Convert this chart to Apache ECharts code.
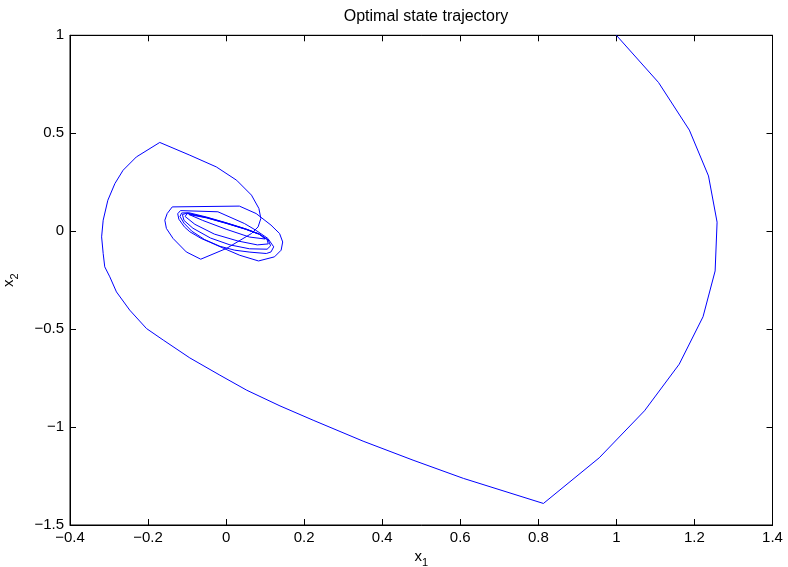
<!DOCTYPE html>
<html>
<head>
<meta charset="utf-8">
<script src="https://cdn.jsdelivr.net/npm/echarts@6/dist/echarts.min.js"></script>
<style>
  html, body { margin: 0; padding: 0; background: #fff; }
  #chart { width: 788px; height: 567px; }
</style>
</head>
<body>
<div id="chart"></div>
<script>
// Axis ranges and tick spacing
const xRange = [-0.4, 1.4];
const xStep = 0.2;
const yRange = [-1.5, 1];
const yStep = 0.5;

// State trajectory samples (x1, x2), in time order
const x1 = [
  1.000, 1.108, 1.187, 1.236, 1.258, 1.253, 1.222, 1.161, 1.072, 0.956, 0.813,
  0.608, 0.479, 0.351, 0.223, 0.138, 0.053, -0.016, -0.093, -0.161, -0.204,
  -0.247, -0.281, -0.298, -0.311, -0.315, -0.319, -0.315, -0.303, -0.285, -0.264,
  -0.230, -0.170,
  -0.093, -0.025, 0.027, 0.065, 0.084, 0.089, 0.082, 0.065, 0.001, -0.065,
  -0.102, -0.136, -0.153, -0.157, -0.151, -0.138, 0.034, 0.077, 0.115, 0.137,
  0.145, 0.141, 0.124, 0.083,
  0.035, 0.000, -0.042, -0.064, -0.093, -0.107, -0.121, -0.124, -0.117, -0.021,
  0.047, 0.076, 0.107, 0.122, 0.115, 0.103,
  0.061, 0.022, -0.016, -0.055, -0.088, -0.108, -0.118, -0.114,
  -0.095, -0.050, 0.000, 0.050, 0.085, 0.108, 0.114, 0.105,
  0.060, 0.010, -0.040, -0.085, -0.108, -0.112,
  -0.100, -0.050, 0.000, 0.050, 0.085, 0.105, 0.108,
  0.080, 0.030, -0.030, -0.080, -0.105, -0.100,
  -0.050, 0.000, 0.050, 0.085, 0.100,
  0.060, 0.000, -0.060, -0.095,
  -0.050, 0.000, 0.050, 0.080
];
const x2 = [
  1.000, 0.759, 0.516, 0.282, 0.046, -0.203, -0.437, -0.679, -0.917, -1.157, -1.390,
  -1.262, -1.169, -1.072, -0.965, -0.892, -0.812, -0.735, -0.647, -0.556, -0.497,
  -0.403, -0.310, -0.233, -0.182, -0.114, -0.029, 0.056, 0.158, 0.243, 0.311,
  0.379, 0.453,
  0.388, 0.328, 0.260, 0.184, 0.116, 0.065, 0.022, -0.012, -0.088, -0.143,
  -0.106, -0.037, 0.014, 0.056, 0.090, 0.124, 0.128, 0.090, 0.031, -0.012,
  -0.055, -0.097, -0.131, -0.152,
  -0.123, -0.093, -0.056, -0.037, -0.003, 0.022, 0.061, 0.089, 0.105, 0.099,
  0.039, 0.005, -0.037, -0.080, -0.106, -0.114,
  -0.107, -0.097, -0.077, -0.043, 0.000, 0.041, 0.075, 0.093,
  0.094, 0.072, 0.043, 0.012, -0.014, -0.045, -0.075, -0.092,
  -0.090, -0.070, -0.035, 0.015, 0.055, 0.085,
  0.092, 0.070, 0.042, 0.011, -0.015, -0.042, -0.065,
  -0.070, -0.050, -0.015, 0.035, 0.075, 0.090,
  0.069, 0.041, 0.010, -0.016, -0.040,
  -0.030, 0.010, 0.055, 0.085,
  0.068, 0.040, 0.010, -0.012
];

const points = x1.map((v, i) => [v, x2[i]]);

const FONT = 'Liberation Sans, Arial, Helvetica, sans-serif';
const minus = v => String(v).replace('-', '\u2212');

const tickStyle = { show: true, inside: true, length: 6, lineStyle: { color: '#000', width: 1 } };
const lineStyle = { show: true, onZero: false, lineStyle: { color: '#000', width: 1 } };

const chart = echarts.init(document.getElementById('chart'), null, { renderer: 'canvas' });
chart.setOption({
  animation: false,
  backgroundColor: '#fff',
  title: {
    text: 'Optimal state trajectory',
    left: 421,
    textAlign: 'center',
    top: 4,
    textStyle: { fontFamily: FONT, fontSize: 16, fontWeight: 'normal', color: '#000' }
  },
  grid: {
    left: 70, right: 15.5, top: 35.3, bottom: 42,
    containLabel: false,
    outerBoundsMode: 'none',
    show: true, borderColor: '#000', borderWidth: 1, backgroundColor: '#fff'
  },
  xAxis: [{
    type: 'value', min: xRange[0], max: xRange[1], interval: xStep,
    position: 'bottom',
    axisLine: lineStyle, axisTick: tickStyle, splitLine: { show: false },
    axisLabel: { margin: 5, fontFamily: FONT, fontSize: 15, color: '#000', formatter: minus },
    name: '{v|x}{s|1}', nameLocation: 'middle', nameGap: 21, nameMoveOverlap: false,
    nameTextStyle: {
      fontFamily: FONT, color: '#000',
      rich: {
        v: { fontFamily: FONT, fontSize: 15, color: '#000' },
        s: { fontFamily: FONT, fontSize: 11, color: '#000', padding: [11, 0, 0, 0] }
      }
    }
  }, {
    type: 'value', min: xRange[0], max: xRange[1], interval: xStep,
    position: 'top',
    axisLine: lineStyle, axisTick: tickStyle, splitLine: { show: false },
    axisLabel: { show: false }
  }],
  yAxis: [{
    type: 'value', min: yRange[0], max: yRange[1], interval: yStep,
    position: 'left',
    axisLine: lineStyle, axisTick: tickStyle, splitLine: { show: false },
    axisLabel: { margin: 6, fontFamily: FONT, fontSize: 15, color: '#000', formatter: minus },
    name: '{v|x}{s|2}', nameLocation: 'middle', nameGap: 50, nameRotate: 90, nameMoveOverlap: false,
    nameTextStyle: {
      fontFamily: FONT, color: '#000',
      rich: {
        v: { fontFamily: FONT, fontSize: 15, color: '#000' },
        s: { fontFamily: FONT, fontSize: 11, color: '#000', padding: [11, 0, 0, 0] }
      }
    }
  }, {
    type: 'value', min: yRange[0], max: yRange[1], interval: yStep,
    position: 'right',
    axisLine: lineStyle, axisTick: tickStyle, splitLine: { show: false },
    axisLabel: { show: false }
  }],
  series: [{
    type: 'line',
    xAxisIndex: 0,
    yAxisIndex: 0,
    data: points,
    showSymbol: false,
    smooth: false,
    clip: true,
    lineStyle: { color: '#0000ff', width: 1 }
  }]
});
</script>
</body>
</html>
